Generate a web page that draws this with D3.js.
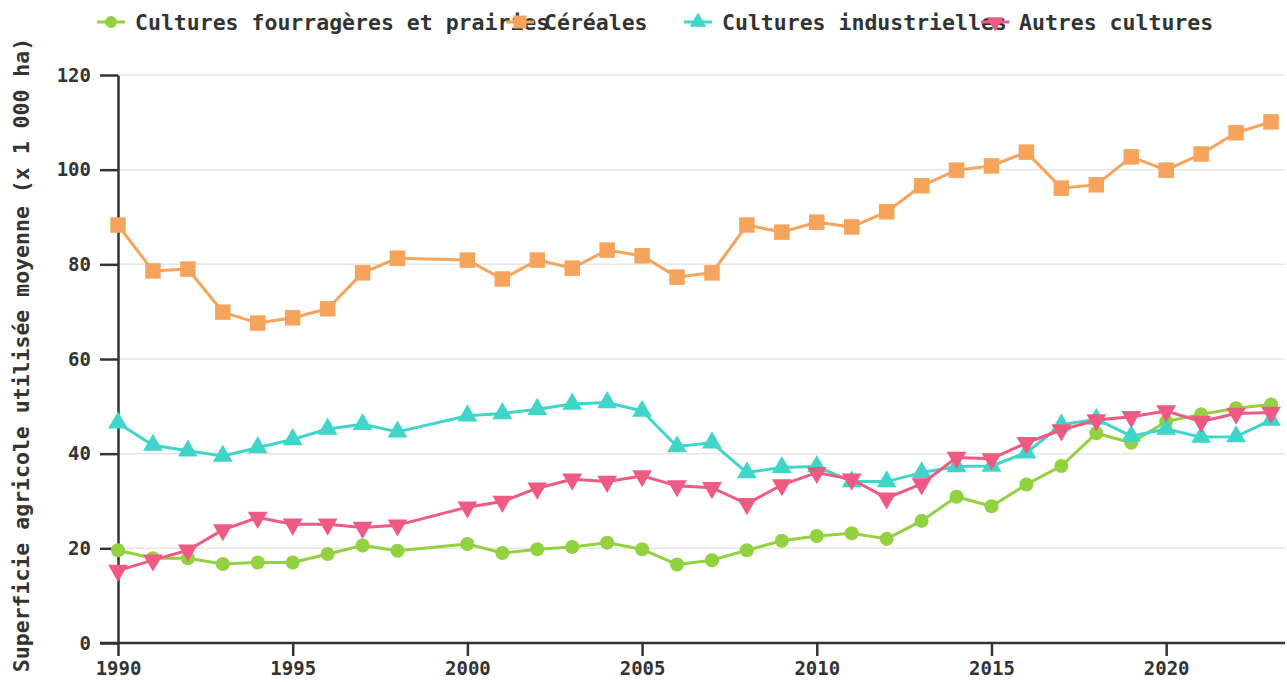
<!DOCTYPE html>
<html>
<head>
<meta charset="utf-8">
<script src="https://cdn.jsdelivr.net/npm/d3@7"></script>
<style>
  body { margin: 0; background: #fff; }
  text { font-family: "DejaVu Sans Mono", monospace; font-weight: bold; fill: #333; }
</style>
</head>
<body>
<div id="chart"></div>
<script>
// --- data ---
const years = [1990, 1991, 1992, 1993, 1994, 1995, 1996, 1997, 1998,
  2000, 2001, 2002, 2003, 2004, 2005, 2006, 2007, 2008, 2009, 2010, 2011,
  2012, 2013, 2014, 2015, 2016, 2017, 2018, 2019, 2020, 2021, 2022, 2023];

const fourrageres = [19.6, 17.9, 17.9, 16.7, 17.0, 17.0, 18.8, 20.6, 19.5,
  20.9, 19.0, 19.8, 20.3, 21.2, 19.8, 16.6, 17.5, 19.6, 21.6, 22.6, 23.2,
  22.0, 25.8, 30.9, 28.9, 33.5, 37.4, 44.3, 42.3, 46.8, 48.3, 49.6, 50.4];

const cereales = [88.3, 78.6, 79.0, 69.9, 67.6, 68.7, 70.6, 78.2, 81.3,
  80.9, 76.9, 80.9, 79.2, 83.0, 81.8, 77.3, 78.2, 88.3, 86.8, 88.9, 87.9,
  91.1, 96.6, 99.9, 100.8, 103.7, 96.1, 96.8, 102.7, 99.9, 103.3, 107.8, 110.1];

const industrielles = [46.5, 41.8, 40.6, 39.5, 41.3, 43.0, 45.2, 46.2, 44.6,
  48.0, 48.5, 49.4, 50.5, 50.8, 49.0, 41.5, 42.3, 36.0, 37.1, 37.3, 34.1,
  34.1, 36.0, 37.3, 37.4, 40.2, 46.1, 47.3, 43.7, 45.2, 43.5, 43.6, 47.1];

const autres = [15.3, 17.5, 19.6, 23.9, 26.5, 25.1, 25.1, 24.4, 24.9,
  28.7, 29.9, 32.7, 34.6, 34.1, 35.3, 33.2, 32.8, 29.4, 33.4, 36.0, 34.6,
  30.6, 33.6, 39.2, 38.9, 42.3, 45.0, 47.1, 47.8, 49.0, 46.8, 48.5, 48.7];

const seriesNames = ["Cultures fourragères et prairies", "Céréales", "Cultures industrielles", "Autres cultures"];
const seriesValues = [fourrageres, cereales, industrielles, autres];
const xTicks = [1990, 1995, 2000, 2005, 2010, 2015, 2020];
const yTicks = [0, 20, 40, 60, 80, 100, 120];
const yTitle = "Superficie agricole utilisée moyenne (x 1 000 ha)";

// --- look ---
const colors = ["#92d13f", "#f6a35b", "#3fd5c9", "#ef5a83"];
const symbols = [d3.symbolCircle, d3.symbolSquare, d3.symbolTriangle, d3.symbolTriangle];
const symbolSize = [155, 240, 170, 170];
const symbolRotate = [0, 0, 0, 180];

const W = 1287, H = 682;
const plot = {left: 118, right: 1285, top: 75, bottom: 643};

const svg = d3.select("#chart").append("svg")
  .attr("width", W)
  .attr("height", H);

const x = d3.scaleLinear().domain([1990, 2023]).range([plot.left, 1271]);
const y = d3.scaleLinear().domain([0, 120]).range([plot.bottom, plot.top]);

// gridlines
svg.append("g")
  .selectAll("line")
  .data(yTicks.filter(d => d > 0))
  .join("line")
  .attr("x1", plot.left)
  .attr("x2", plot.right)
  .attr("y1", d => y(d))
  .attr("y2", d => y(d))
  .attr("stroke", "#e6e6e6")
  .attr("stroke-width", 1.5);

// axes
const xAxis = svg.append("g")
  .attr("transform", `translate(0,${plot.bottom})`)
  .call(d3.axisBottom(x).tickValues(xTicks).tickFormat(d3.format("d")).tickSize(13).tickSizeOuter(0).tickPadding(6));
xAxis.select(".domain").attr("d", `M${plot.left - 18},0H${plot.right}`);

const yAxis = svg.append("g")
  .attr("transform", `translate(${plot.left},0)`)
  .call(d3.axisLeft(y).tickValues(yTicks).tickSize(18).tickSizeOuter(0).tickPadding(9));

[xAxis, yAxis].forEach(a => {
  a.select(".domain").attr("stroke", "#333").attr("stroke-width", 2.5);
  a.selectAll(".tick line").attr("stroke", "#333").attr("stroke-width", 2.5);
  a.selectAll(".tick text")
    .style("font-family", "'DejaVu Sans Mono', monospace")
    .style("font-weight", "bold")
    .style("font-size", "19px")
    .attr("fill", "#333");
});

// y title
svg.append("text")
  .attr("transform", `translate(21,355) rotate(-90)`)
  .attr("text-anchor", "middle")
  .attr("dominant-baseline", "central")
  .style("font-size", "21.5px")
  .text(yTitle);

// lines + markers
const line = d3.line()
  .x((d, i) => x(years[i]))
  .y(d => y(d));

seriesValues.forEach((vals, s) => {
  svg.append("path")
    .datum(vals)
    .attr("fill", "none")
    .attr("stroke", colors[s])
    .attr("stroke-width", 3)
    .attr("stroke-linejoin", "round")
    .attr("d", line);

  svg.append("g")
    .selectAll("path")
    .data(vals)
    .join("path")
    .attr("d", d3.symbol().type(symbols[s]).size(symbolSize[s]))
    .attr("transform", (d, i) => `translate(${x(years[i])},${y(d)}) rotate(${symbolRotate[s]})`)
    .attr("fill", colors[s]);
});

// legend (items overlap like in the original)
const legendX = [111, 520, 698, 995];
const legend = svg.append("g").attr("transform", "translate(0,22)");
seriesNames.forEach((name, s) => {
  const g = legend.append("g").attr("transform", `translate(${legendX[s]},0)`);
  g.append("line")
    .attr("x1", -14).attr("x2", 14)
    .attr("stroke", colors[s])
    .attr("stroke-width", 3);
  g.append("path")
    .attr("d", d3.symbol().type(symbols[s]).size(symbolSize[s] * 0.7))
    .attr("transform", `rotate(${symbolRotate[s]})`)
    .attr("fill", colors[s]);
  g.append("text")
    .attr("x", 24)
    .attr("dominant-baseline", "central")
    .style("font-size", "21.5px")
    .text(name);
});
</script>
</body>
</html>
